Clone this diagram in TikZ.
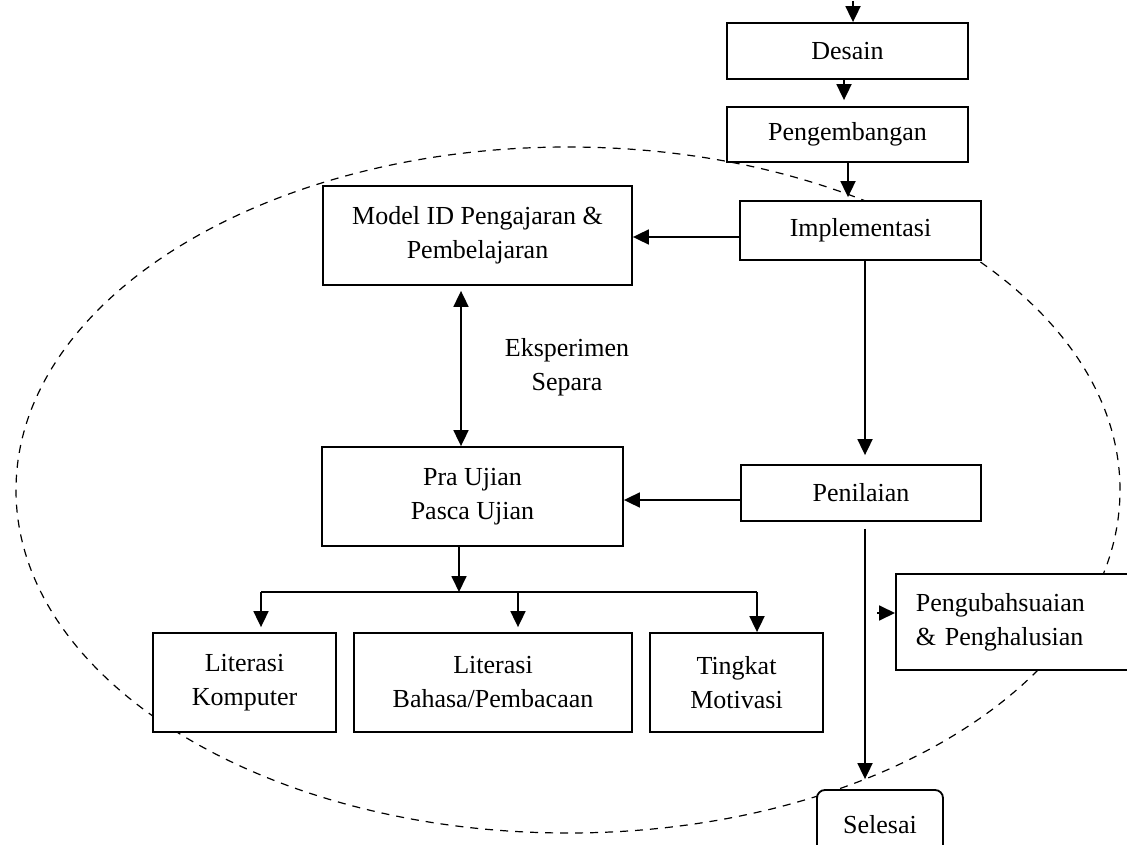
\documentclass[tikz,border=0pt]{standalone}
\usepackage{fontspec}
\setmainfont{Liberation Serif}
\usetikzlibrary{arrows.meta}
\begin{document}
\begin{tikzpicture}[x=1pt,y=-1pt,
 box/.style={draw, line width=1.8pt, fill=white, inner sep=0pt, align=center, font=\fontsize{26}{34}\selectfont},
 lbl/.style={align=center, font=\fontsize{26}{34}\selectfont},
 arr/.style={line width=1.8pt, -{Triangle[length=16pt,width=15pt]}},
 darr/.style={line width=1.8pt, {Triangle[length=16pt,width=15pt]}-{Triangle[length=16pt,width=15pt]}},
 ln/.style={line width=1.8pt},
 oval/.style={line width=1.2pt, dash pattern=on 8pt off 7pt}]
\useasboundingbox (0,0) rectangle (1127,845);
\fill[white] (0,0) rectangle (1127,845);

% dashed boundary
\draw[oval] (568,490) ellipse [x radius=552pt, y radius=343pt];

% boxes
\node[box, minimum width=241pt, minimum height=56pt] (desain) at (847.5,51) {Desain};
\node[box, minimum width=241pt, minimum height=55pt] (peng) at (847.5,134.5) {Pengembangan};
\node[box, minimum width=241pt, minimum height=59pt] (impl) at (860.5,230.5) {Implementasi};
\node[box, minimum width=309pt, minimum height=99pt] (model) at (477.5,235.5) {Model ID Pengajaran \&\\Pembelajaran};
\node[box, minimum width=301pt, minimum height=99pt] (pra) at (472.5,496.5) {Pra Ujian\\Pasca Ujian};
\node[box, minimum width=240pt, minimum height=56pt] (pen) at (861,493) {Penilaian};
\node[box, minimum width=183pt, minimum height=99pt] (komp) at (244.5,682.5) {Literasi\\Komputer};
\node[box, minimum width=278pt, minimum height=99pt] (bahasa) at (493,682.5) {Literasi\\Bahasa/Pembacaan};
\node[box, minimum width=173pt, minimum height=99pt] (tingkat) at (736.5,682.5) {Tingkat\\Motivasi};
\node[box, anchor=west, minimum width=245pt, minimum height=96pt, text width=205pt, inner xsep=20pt, align=left] (pengubah) at (895,622) {Pengubahsuaian\\\& Penghalusian};
\node[box, rounded corners=8pt, minimum width=126pt, minimum height=70pt] (sel) at (880,825) {Selesai};

\node[lbl] (eks) at (567,367) {Eksperimen\\Separa};

% connectors
\coordinate (t0) at (853,1);
\draw[arr] (t0) -- (t0 |- desain.north);
\coordinate (x1) at (844,0);
\draw[arr, shorten >=6pt] (desain.south -| x1) -- (peng.north -| x1);
\coordinate (x2) at (848,0);
\draw[arr, shorten >=3pt] (peng.south -| x2) -- (impl.north -| x2);
\coordinate (a1) at (741,237);
\draw[arr] (impl.west |- a1) -- (model.east |- a1);
\coordinate (dx) at (461,0);
\draw[darr, shorten <=5pt] (model.south -| dx) -- (pra.north -| dx);
\coordinate (vx) at (865,0);
\draw[arr, shorten >=9pt] (impl.south -| vx) -- (pen.north -| vx);
\coordinate (hy) at (0,500);
\draw[arr] (pen.west |- hy) -- (pra.east |- hy);
\coordinate (j) at (459,592);
\draw[arr] (pra.south -| j) -- (j);
\coordinate (b1) at (261,592);
\coordinate (b2) at (518,592);
\coordinate (b3) at (757,592);
\draw[ln] (b1) -- (b3);
\draw[arr, shorten >=5pt] (b1) -- (b1 |- komp.north);
\draw[arr, shorten >=5pt] (b2) -- (b2 |- bahasa.north);
\draw[arr] (b3) -- (b3 |- tingkat.north);
\draw[arr, shorten <=7pt, shorten >=10pt] (pen.south -| vx) -- (sel.north -| vx);
\coordinate (pg) at (877,613);
\draw[arr] (pg) -- (pengubah.west |- pg);
\end{tikzpicture}
\end{document}
